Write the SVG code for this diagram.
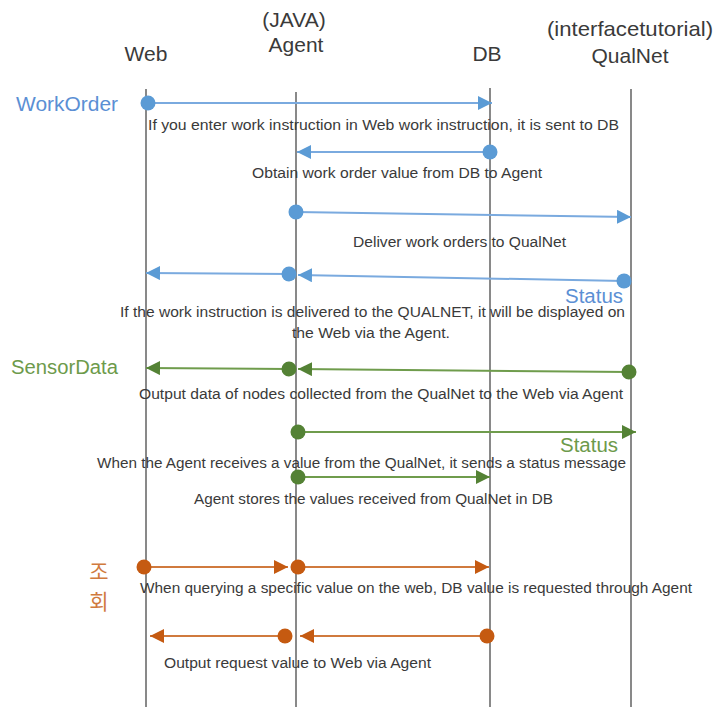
<svg xmlns="http://www.w3.org/2000/svg" width="716" height="707" viewBox="0 0 716 707">
<style>
.hdr{font-family:"Liberation Sans",Arial,sans-serif;font-size:21px;fill:#3a3a3a;text-anchor:middle}
.txt{font-family:"Liberation Sans",Arial,sans-serif;font-size:14px;fill:#3a3a3a}
.lbl{font-family:"Liberation Sans",Arial,sans-serif;font-size:20px}
.kr{font-family:"Noto Sans CJK KR",sans-serif;font-size:21px;fill:#d07a3e;text-anchor:middle}
.life{stroke:#4a4a4a;stroke-width:1.3;fill:none}
.b{stroke:#7aaadf;stroke-width:2;fill:none;marker-start:url(#cb);marker-end:url(#ab)}
.g{stroke:#6f9c4c;stroke-width:2;fill:none;marker-start:url(#cg);marker-end:url(#ag)}
.o{stroke:#d07a3e;stroke-width:2;fill:none;marker-start:url(#co);marker-end:url(#ao)}
</style>
<defs>
<marker id="ab" markerUnits="userSpaceOnUse" markerWidth="15" markerHeight="14" refX="14" refY="7" orient="auto"><path d="M0,0 L14,7 L0,14 Z" fill="#5b9bd5"/></marker>
<marker id="ag" markerUnits="userSpaceOnUse" markerWidth="15" markerHeight="14" refX="14" refY="7" orient="auto"><path d="M0,0 L14,7 L0,14 Z" fill="#548235"/></marker>
<marker id="ao" markerUnits="userSpaceOnUse" markerWidth="15" markerHeight="14" refX="14" refY="7" orient="auto"><path d="M0,0 L14,7 L0,14 Z" fill="#c55a11"/></marker>
<marker id="cb" markerUnits="userSpaceOnUse" markerWidth="16" markerHeight="16" refX="8" refY="8" orient="auto"><circle cx="8" cy="8" r="7.5" fill="#5b9bd5"/></marker>
<marker id="cg" markerUnits="userSpaceOnUse" markerWidth="16" markerHeight="16" refX="8" refY="8" orient="auto"><circle cx="8" cy="8" r="7.5" fill="#548235"/></marker>
<marker id="co" markerUnits="userSpaceOnUse" markerWidth="16" markerHeight="16" refX="8" refY="8" orient="auto"><circle cx="8" cy="8" r="7.5" fill="#c55a11"/></marker>
</defs>
<rect width="716" height="707" fill="#ffffff"/>
<g id="web">
<text class="hdr" x="146" y="61">Web</text>
<line class="life" x1="146" y1="89" x2="146" y2="707"/>
</g>
<g id="agent">
<text class="hdr" x="294" y="27">(JAVA)</text>
<text class="hdr" x="296" y="52">Agent</text>
<line class="life" x1="296" y1="92" x2="296" y2="707"/>
</g>
<g id="db">
<text class="hdr" x="487" y="61">DB</text>
<line class="life" x1="490" y1="88" x2="490" y2="707"/>
</g>
<g id="qualnet">
<text class="hdr" x="630" y="36" textLength="166" lengthAdjust="spacingAndGlyphs">(interfacetutorial)</text>
<text class="hdr" x="630" y="63">QualNet</text>
<line class="life" x1="631" y1="89" x2="631" y2="707"/>
</g>
<g id="labels">
<text class="lbl" x="16" y="111" fill="#5b8fd4" textLength="102" lengthAdjust="spacingAndGlyphs">WorkOrder</text>
<text class="lbl" x="565" y="303" fill="#5b8fd4" textLength="58" lengthAdjust="spacingAndGlyphs">Status</text>
<text class="lbl" x="11" y="374" fill="#6d9a4b" textLength="107" lengthAdjust="spacingAndGlyphs">SensorData</text>
<text class="lbl" x="560" y="452" fill="#6d9a4b" textLength="58" lengthAdjust="spacingAndGlyphs">Status</text>
<text class="kr" x="99" y="579">조</text>
<text class="kr" x="99" y="609">회</text>
</g>
<g id="connectors">
<line class="b" x1="148" y1="103" x2="492" y2="103"/>
<line class="b" x1="490" y1="152" x2="297" y2="152"/>
<line class="b" x1="296" y1="212" x2="631" y2="217"/>
<line class="b" x1="624" y1="281" x2="298" y2="275"/>
<line class="b" x1="289" y1="274" x2="146" y2="273"/>
<line class="g" x1="629" y1="372" x2="298" y2="369"/>
<line class="g" x1="289" y1="369" x2="146" y2="368"/>
<line class="g" x1="298" y1="432" x2="636" y2="432"/>
<line class="g" x1="298" y1="477" x2="490" y2="477"/>
<line class="o" x1="144" y1="567" x2="288" y2="567"/>
<line class="o" x1="298" y1="567" x2="489" y2="567"/>
<line class="o" x1="487" y1="636" x2="300" y2="636"/>
<line class="o" x1="285" y1="636" x2="150" y2="636"/>
</g>
<g id="notes">
<text class="txt" x="148" y="130" textLength="471" lengthAdjust="spacingAndGlyphs">If you enter work instruction in Web work instruction, it is sent to DB</text>
<text class="txt" x="252" y="178" textLength="290" lengthAdjust="spacingAndGlyphs">Obtain work order value from DB to Agent</text>
<text class="txt" x="353" y="247" textLength="213" lengthAdjust="spacingAndGlyphs">Deliver work orders to QualNet</text>
<text class="txt" x="120" y="317" textLength="505" lengthAdjust="spacingAndGlyphs">If the work instruction is delivered to the QUALNET, it will be displayed on</text>
<text class="txt" x="292" y="338" textLength="158" lengthAdjust="spacingAndGlyphs">the Web via the Agent.</text>
<text class="txt" x="139" y="399" textLength="484" lengthAdjust="spacingAndGlyphs">Output data of nodes collected from the QualNet to the Web via Agent</text>
<text class="txt" x="97" y="468" textLength="529" lengthAdjust="spacingAndGlyphs">When the Agent receives a value from the QualNet, it sends a status message</text>
<text class="txt" x="194" y="504" textLength="359" lengthAdjust="spacingAndGlyphs">Agent stores the values received from QualNet in DB</text>
<text class="txt" x="140" y="593" textLength="552" lengthAdjust="spacingAndGlyphs">When querying a specific value on the web, DB value is requested through Agent</text>
<text class="txt" x="164" y="668" textLength="267" lengthAdjust="spacingAndGlyphs">Output request value to Web via Agent</text>
</g>
</svg>
